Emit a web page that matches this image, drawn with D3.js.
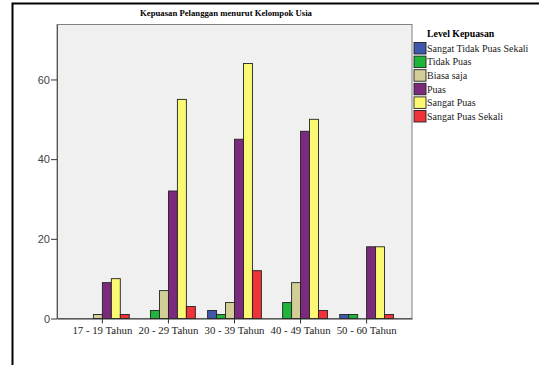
<!DOCTYPE html>
<html>
<head>
<meta charset="utf-8">
<script src="https://cdn.jsdelivr.net/npm/d3@7"></script>
<style>
  html, body { margin: 0; padding: 0; background: #fff; }
  svg { display: block; }
</style>
</head>
<body>
<svg id="chart" width="539" height="365"></svg>
<script>
// Age groups on the x axis
const categories = ["17 - 19 Tahun", "20 - 29 Tahun", "30 - 39 Tahun", "40 - 49 Tahun", "50 - 60 Tahun"];
// Satisfaction levels (legend order)
const seriesNames = ["Sangat Tidak Puas Sekali", "Tidak Puas", "Biasa saja", "Puas", "Sangat Puas", "Sangat Puas Sekali"];
// Counts per level, one value per age group
const sangatTidakPuasSekali = [0, 0, 2, 0, 1];
const tidakPuas             = [0, 2, 1, 4, 1];
const biasaSaja             = [1, 7, 4, 9, 0];
const puas                  = [9, 32, 45, 47, 18];
const sangatPuas            = [10, 55, 64, 50, 18];
const sangatPuasSekali      = [1, 3, 12, 2, 1];
const seriesValues = [sangatTidakPuasSekali, tidakPuas, biasaSaja, puas, sangatPuas, sangatPuasSekali];
const yTicks = [0, 20, 40, 60];
const colors = ["#3E58AC", "#1EB53A", "#D3CE97", "#7B2A7D", "#FBF873", "#EF3338"];

const serif = "'Liberation Serif', 'Times New Roman', serif";
const svg = d3.select("#chart");

// Outer frame
svg.append("rect")
  .attr("x", 12.5).attr("y", 3.5)
  .attr("width", 600).attr("height", 400)
  .attr("fill", "none").attr("stroke", "#000").attr("stroke-width", 2);

const plot = { left: 57, right: 412, top: 24.5, bottom: 318.5 };

// Title
svg.append("text")
  .attr("x", 226).attr("y", 15.5)
  .attr("text-anchor", "middle")
  .attr("font-family", serif)
  .attr("font-weight", "bold")
  .attr("font-size", 8.7)
  .attr("fill", "#000")
  .text("Kepuasan Pelanggan menurut Kelompok Usia");

// Scales
const y = d3.scaleLinear().domain([0, 73.8]).range([plot.bottom, plot.top]);
const x0 = d3.scaleBand().domain(categories)
  .range([plot.left, plot.right])
  .paddingInner(0.186).paddingOuter(0.28);
const x1 = d3.scaleBand().domain(seriesNames).range([0, x0.bandwidth()]);

// Plot background
svg.append("rect")
  .attr("x", plot.left).attr("y", plot.top)
  .attr("width", plot.right - plot.left).attr("height", plot.bottom - plot.top)
  .attr("fill", "#F0F0F0").attr("stroke", "#808080").attr("stroke-width", 1);

// Bars
const rows = categories.map((c, i) => ({ cat: c, vals: seriesNames.map((s, j) => ({ s, j, v: seriesValues[j][i] })) }));
const groups = svg.append("g").selectAll("g").data(rows).join("g")
  .attr("transform", d => `translate(${x0(d.cat)},0)`);
groups.selectAll("rect").data(d => d.vals.filter(e => e.v > 0)).join("rect")
  .attr("x", d => x1(d.s))
  .attr("y", d => y(d.v))
  .attr("width", x1.bandwidth())
  .attr("height", d => y(0) - y(d.v))
  .attr("fill", d => colors[d.j])
  .attr("stroke", "#222").attr("stroke-width", 0.9);

// Y axis
const yAxis = d3.axisLeft(y).tickValues(yTicks).tickSize(6).tickSizeOuter(0);
const gy = svg.append("g").attr("transform", `translate(${plot.left},0)`).call(yAxis);
gy.select(".domain").attr("stroke", "#555");
gy.selectAll(".tick line").attr("stroke", "#333");
gy.selectAll(".tick text")
  .attr("font-family", "'Liberation Sans', Arial, sans-serif")
  .attr("font-size", 11).attr("fill", "#444").attr("x", -7);

// X axis
const xAxis = d3.axisBottom(x0).tickSize(5).tickSizeOuter(0);
const gx = svg.append("g").attr("transform", `translate(0,${plot.bottom})`).call(xAxis);
gx.select(".domain").attr("stroke", "#333");
gx.selectAll(".tick line").attr("stroke", "#333");
gx.selectAll(".tick text")
  .attr("font-family", serif)
  .attr("font-size", 10.8).attr("fill", "#222").attr("dy", "0.71em").attr("y", 7.5);

// Legend
const legend = svg.append("g");
legend.append("text")
  .attr("x", 427).attr("y", 37)
  .attr("font-family", serif)
  .attr("font-weight", "bold").attr("font-size", 9.8)
  .attr("fill", "#000")
  .text("Level Kepuasan");
const items = legend.selectAll("g.item").data(seriesNames).join("g")
  .attr("class", "item")
  .attr("transform", (d, i) => `translate(414,${42.5 + i * 13.6})`);
items.append("rect")
  .attr("width", 12).attr("height", 11.5)
  .attr("fill", (d, i) => colors[i])
  .attr("stroke", "#222").attr("stroke-width", 0.9);
items.append("text")
  .attr("x", 13).attr("y", 9.3)
  .attr("font-family", serif)
  .attr("font-size", 10).attr("fill", "#222")
  .text(d => d);
</script>
</body>
</html>
